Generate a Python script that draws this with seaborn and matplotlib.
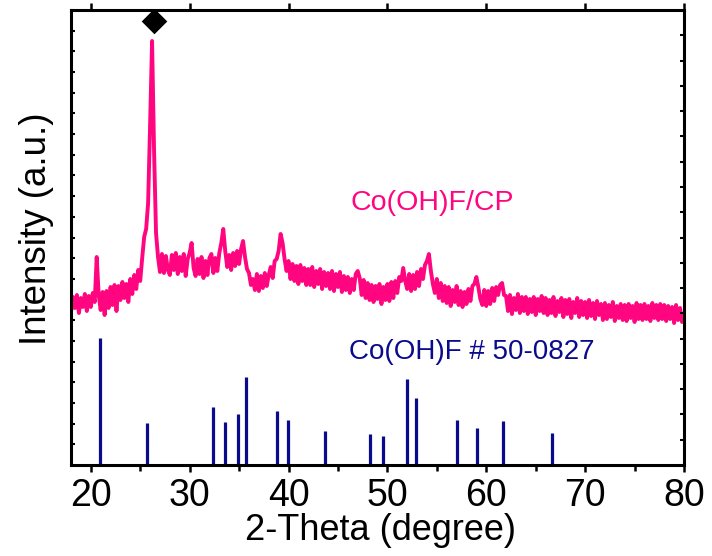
import numpy as np
import pandas as pd
import matplotlib
matplotlib.use("Agg")
import matplotlib.pyplot as plt
import seaborn as sns

# ---- data ----
two_theta_start = 18.0
two_theta_step = 0.2
intensity = [
    153, 168, 157, 170, 152, 167, 158, 171, 154, 169,   # 18.0-19.8
    158, 172, 163, 208, 170, 155, 173, 150, 174, 157,   # 20.0-21.8
    178, 160, 180, 154, 179, 165, 183, 167, 181, 163,   # 22.0-23.8
    186, 171, 190, 176, 195, 184, 207, 228, 236, 262,   # 24.0-25.8
    340, 424, 315, 232, 208, 193, 211, 192, 209, 195,   # 26.0-27.8
    190, 210, 195, 212, 191, 208, 194, 211, 189, 206,   # 28.0-29.8
    212, 222, 197, 189, 206, 191, 208, 187, 204, 190,   # 30.0-31.8
    207, 211, 192, 207, 194, 212, 222, 236, 214, 198,   # 32.0-33.8
    210, 195, 212, 199, 214, 201, 216, 224, 208, 196,   # 34.0-35.8
    192, 180, 186, 175, 191, 174, 189, 177, 192, 179,   # 36.0-37.8
    190, 198, 187, 204, 206, 214, 231, 222, 206, 194,   # 38.0-39.8
    204, 186, 201, 184, 199, 181, 200, 184, 197, 180,   # 40.0-41.8
    196, 180, 198, 178, 194, 181, 196, 176, 193, 179,   # 42.0-43.8
    192, 176, 194, 174, 191, 178, 193, 173, 189, 175,   # 44.0-45.8
    188, 172, 186, 175, 191, 194, 187, 170, 185, 167,   # 46.0-47.8
    182, 165, 180, 163, 179, 166, 181, 161, 178, 165,   # 48.0-49.8
    181, 164, 183, 167, 184, 172, 188, 184, 197, 184,   # 50.0-51.8
    176, 191, 174, 190, 176, 193, 179, 196, 186, 200,   # 52.0-53.8
    204, 211, 194, 181, 172, 186, 167, 182, 164, 179,   # 54.0-55.8
    162, 178, 159, 175, 163, 179, 160, 174, 158, 173,   # 56.0-57.8
    161, 176, 164, 179, 181, 188, 178, 166, 160, 175,   # 58.0-59.8
    159, 174, 161, 177, 164, 178, 170, 180, 182, 170,   # 60.0-61.8
    169, 154, 170, 151, 167, 155, 171, 152, 168, 154,   # 62.0-63.8
    168, 151, 166, 153, 168, 150, 166, 154, 169, 152,   # 64.0-65.8
    167, 150, 165, 152, 168, 149, 164, 153, 167, 148,   # 66.0-67.8
    165, 151, 166, 147, 163, 152, 167, 148, 164, 150,   # 68.0-69.8
    163, 147, 165, 149, 162, 146, 164, 150, 161, 145,   # 70.0-71.8
    162, 146, 160, 148, 163, 144, 159, 147, 161, 145,   # 72.0-73.8
    160, 144, 161, 147, 159, 143, 162, 146, 160, 145,   # 74.0-75.8
    161, 146, 159, 144, 162, 147, 160, 145, 161, 146,   # 76.0-77.8
    160, 144, 159, 146, 158, 142, 160, 145, 157, 143,   # 78.0-79.8
    148,                                                # 80.0
]
two_theta = np.round(two_theta_start + two_theta_step * np.arange(len(intensity)), 2)

ref_pos = [20.91, 25.73, 32.41, 33.62, 34.87, 35.68, 38.84, 39.99, 43.70,
           48.25, 49.56, 52.03, 52.87, 57.05, 59.11, 61.70, 66.62]
ref_int = [127, 42, 58, 43, 51, 88, 54, 45, 34,
           31, 29, 86, 67, 45, 37, 44, 32]

marker_pos = [26.37]
marker_int = [444]

x_ticks = [20, 30, 40, 50, 60, 70, 80]
sample_label = "Co(OH)F/CP"
ref_label = "Co(OH)F # 50-0827"

# ---- style ----
sns.set_theme(style="ticks")
plt.rcParams["font.family"] = ["Liberation Sans", "DejaVu Sans"]
plt.rcParams["text.color"] = "black"
plt.rcParams["axes.labelcolor"] = "black"
plt.rcParams["xtick.color"] = "black"
plt.rcParams["ytick.color"] = "black"

PINK = "#FF0580"
NAVY = "#0A0A8C"

fig = plt.figure(figsize=(7.12, 5.56), dpi=100)
ax = fig.add_axes([71 / 712, 1 - 465 / 556, (684 - 71) / 712, (465 - 10) / 556])

df = pd.DataFrame({"2theta": two_theta, "I": intensity})
sns.lineplot(data=df, x="2theta", y="I", ax=ax, color=PINK, lw=2.8, sort=False)

ax.vlines(ref_pos, 0, ref_int, color=NAVY, lw=2.3)
sns.scatterplot(x=marker_pos, y=marker_int, ax=ax, marker="D", s=170,
                color="black", edgecolor="black", linewidth=0)

ax.set_xlim(18, 80)
ax.set_ylim(0, 455)
ax.set_xticks(x_ticks)
ax.set_xticklabels([str(t) for t in x_ticks])
ax.set_xticks([25, 35, 45, 55, 65, 75], minor=True)
ax.set_yticks(np.arange(1, 22) * 455 / 22)
ax.set_yticklabels([])

for s in ax.spines.values():
    s.set_linewidth(2.2)
    s.set_color("black")
    s.set_visible(True)

ax.tick_params(axis="x", which="major", direction="out", length=5, width=1.8,
               labelsize=27, pad=4, top=True, colors="black")
ax.tick_params(axis="x", which="minor", direction="out", length=4, width=1.8, top=False)
ax.tick_params(axis="y", which="major", direction="in", length=3, width=1.5, left=True, right=False)

ax2 = ax.twinx()
ax2.set_ylim(0, 18)
ax2.set_yticks(np.arange(1, 18))
ax2.set_yticklabels([])
ax2.tick_params(axis="y", direction="in", length=3, width=1.5, right=True)
for s in ax2.spines.values():
    s.set_visible(False)

ax.set_xlabel("2-Theta (degree)", fontsize=26, color="black")
ax.set_ylabel("Intensity (a.u.)", fontsize=26.5, color="black")
ax.xaxis.set_label_coords(0.505, -0.105)
ax.yaxis.set_label_coords(-0.027, 0.52)

ax.text(54.5, 262, sample_label, color=PINK, fontsize=20.5, ha="center", va="center")
ax.text(58.5, 113, ref_label, color=NAVY, fontsize=20, ha="center", va="center")

fig.savefig("out.png", dpi=100)
